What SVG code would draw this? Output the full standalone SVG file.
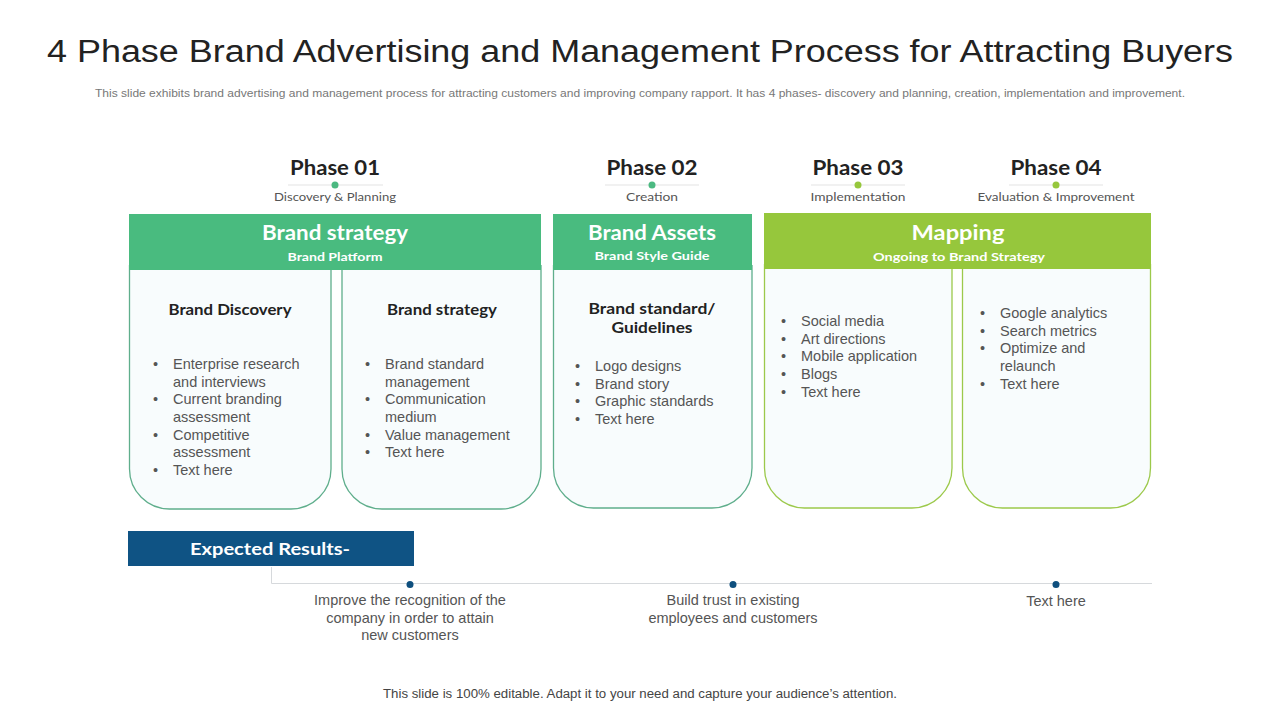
<svg xmlns="http://www.w3.org/2000/svg" width="1280" height="720" viewBox="0 0 1280 720">
<style>
.title{font-family:"Liberation Sans",Arial,sans-serif;font-size:31px;fill:#222;text-anchor:middle}
.sub{font-family:"Liberation Sans",Arial,sans-serif;font-size:10.5px;fill:#777;text-anchor:middle}
.ph{font-family:Lato,"Liberation Sans",sans-serif;font-weight:bold;font-size:20px;fill:#222;text-anchor:middle}
.phs{font-family:Lato,"Liberation Sans",sans-serif;font-size:11.5px;fill:#555;text-anchor:middle}
.hd{font-family:Lato,"Liberation Sans",sans-serif;font-weight:bold;font-size:20px;fill:#fff;text-anchor:middle}
.hds{font-family:Lato,"Liberation Sans",sans-serif;font-weight:bold;font-size:12px;fill:#fff;text-anchor:middle}
.ct{font-family:Lato,"Liberation Sans",sans-serif;font-weight:bold;font-size:15.5px;fill:#222;text-anchor:middle}
.bl{font-family:"Liberation Sans",Arial,sans-serif;font-size:14.5px;fill:#555}
.res{font-family:"Liberation Sans",Arial,sans-serif;font-size:14.5px;fill:#555;text-anchor:middle}
.ft{font-family:"Liberation Sans",Arial,sans-serif;font-size:12.5px;fill:#444;text-anchor:middle}
.cg{fill:#f8fcfd;stroke:#5fae8c;stroke-width:1.3}
.cy{fill:#f8fcfd;stroke:#9cc94b;stroke-width:1.3}
.pl{stroke:#e3e3e3;stroke-width:1}
</style>
<rect width="1280" height="720" fill="#fff"/>
<text class="title" x="640" y="62" textLength="1186" lengthAdjust="spacingAndGlyphs">4 Phase Brand Advertising and Management Process for Attracting Buyers</text>
<text class="sub" x="640" y="97" textLength="1090" lengthAdjust="spacingAndGlyphs">This slide exhibits brand advertising and management process for attracting customers and improving company rapport. It has 4 phases- discovery and planning, creation, implementation and improvement.</text>

<g id="phase1">
<text class="ph" x="335" y="175" textLength="90" lengthAdjust="spacingAndGlyphs">Phase 01</text>
<line class="pl" x1="288" y1="185" x2="383" y2="185"/>
<circle cx="335" cy="185" r="3.5" fill="#4bb981"/>
<text class="phs" x="335" y="201" textLength="122" lengthAdjust="spacingAndGlyphs">Discovery &amp; Planning</text>
</g>
<g id="phase2">
<text class="ph" x="652" y="175" textLength="91" lengthAdjust="spacingAndGlyphs">Phase 02</text>
<line class="pl" x1="605" y1="185" x2="699" y2="185"/>
<circle cx="652" cy="185" r="3.5" fill="#4bb981"/>
<text class="phs" x="652" y="201" textLength="52" lengthAdjust="spacingAndGlyphs">Creation</text>
</g>
<g id="phase3">
<text class="ph" x="858" y="175" textLength="91" lengthAdjust="spacingAndGlyphs">Phase 03</text>
<line class="pl" x1="811" y1="185" x2="905" y2="185"/>
<circle cx="858" cy="185" r="3.5" fill="#96c73c"/>
<text class="phs" x="858" y="201" textLength="95" lengthAdjust="spacingAndGlyphs">Implementation</text>
</g>
<g id="phase4">
<text class="ph" x="1056" y="175" textLength="91" lengthAdjust="spacingAndGlyphs">Phase 04</text>
<line class="pl" x1="1009" y1="185" x2="1103" y2="185"/>
<circle cx="1056" cy="185" r="3.5" fill="#96c73c"/>
<text class="phs" x="1056" y="201" textLength="157" lengthAdjust="spacingAndGlyphs">Evaluation &amp; Improvement</text>
</g>

<g id="card1">
<path class="cg" d="M129.5,265 V469 A40,40 0 0 0 169.5,509 H291 A40,40 0 0 0 331,469 V265"/>
<text class="ct" x="230" y="315" textLength="123" lengthAdjust="spacingAndGlyphs">Brand Discovery</text>
<g class="bl">
<text x="153" y="369">•</text><text x="173" y="369">Enterprise research</text>
<text x="173" y="387">and interviews</text>
<text x="153" y="404">•</text><text x="173" y="404">Current branding</text>
<text x="173" y="422">assessment</text>
<text x="153" y="440">•</text><text x="173" y="440">Competitive</text>
<text x="173" y="457">assessment</text>
<text x="153" y="475">•</text><text x="173" y="475">Text here</text>
</g>
</g>
<g id="card2">
<path class="cg" d="M342,265 V469 A40,40 0 0 0 382,509 H501 A40,40 0 0 0 541,469 V265"/>
<text class="ct" x="442" y="315" textLength="110" lengthAdjust="spacingAndGlyphs">Brand strategy</text>
<g class="bl">
<text x="365" y="369">•</text><text x="385" y="369">Brand standard</text>
<text x="385" y="387">management</text>
<text x="365" y="404">•</text><text x="385" y="404">Communication</text>
<text x="385" y="422">medium</text>
<text x="365" y="440">•</text><text x="385" y="440">Value management</text>
<text x="365" y="457">•</text><text x="385" y="457">Text here</text>
</g>
</g>
<g id="header1">
<rect x="129" y="214" width="412" height="56" fill="#49bb7f"/>
<text class="hd" x="335" y="240" textLength="146" lengthAdjust="spacingAndGlyphs">Brand strategy</text>
<text class="hds" x="335" y="261" textLength="95" lengthAdjust="spacingAndGlyphs">Brand Platform</text>
</g>

<g id="card3">
<path class="cg" d="M553.5,265 V468 A40,40 0 0 0 593.5,508 H712 A40,40 0 0 0 752,468 V265"/>
<text class="ct" x="652" y="314" textLength="127" lengthAdjust="spacingAndGlyphs">Brand standard/</text>
<text class="ct" x="652" y="333" textLength="81" lengthAdjust="spacingAndGlyphs">Guidelines</text>
<g class="bl">
<text x="575" y="371">•</text><text x="595" y="371">Logo designs</text>
<text x="575" y="389">•</text><text x="595" y="389">Brand story</text>
<text x="575" y="406">•</text><text x="595" y="406">Graphic standards</text>
<text x="575" y="424">•</text><text x="595" y="424">Text here</text>
</g>
</g>
<g id="header2">
<rect x="553" y="214" width="199" height="56" fill="#49bb7f"/>
<text class="hd" x="652" y="240" textLength="128" lengthAdjust="spacingAndGlyphs">Brand Assets</text>
<text class="hds" x="652" y="260" textLength="115" lengthAdjust="spacingAndGlyphs">Brand Style Guide</text>
</g>

<g id="card4">
<path class="cy" d="M764.5,264 V468 A40,40 0 0 0 804.5,508 H912 A40,40 0 0 0 952,468 V264"/>
<g class="bl">
<text x="781" y="326">•</text><text x="801" y="326">Social media</text>
<text x="781" y="344">•</text><text x="801" y="344">Art directions</text>
<text x="781" y="361">•</text><text x="801" y="361">Mobile application</text>
<text x="781" y="379">•</text><text x="801" y="379">Blogs</text>
<text x="781" y="397">•</text><text x="801" y="397">Text here</text>
</g>
</g>
<g id="card5">
<path class="cy" d="M962.5,264 V468 A40,40 0 0 0 1002.5,508 H1110.5 A40,40 0 0 0 1150.5,468 V264"/>
<g class="bl">
<text x="980" y="318">•</text><text x="1000" y="318">Google analytics</text>
<text x="980" y="336">•</text><text x="1000" y="336">Search metrics</text>
<text x="980" y="353">•</text><text x="1000" y="353">Optimize and</text>
<text x="1000" y="371">relaunch</text>
<text x="980" y="389">•</text><text x="1000" y="389">Text here</text>
</g>
</g>
<g id="header3">
<rect x="764" y="213" width="387" height="56" fill="#96c73c"/>
<text class="hd" x="958" y="240" textLength="93" lengthAdjust="spacingAndGlyphs">Mapping</text>
<text class="hds" x="959" y="261" textLength="172" lengthAdjust="spacingAndGlyphs">Ongoing to Brand Strategy</text>
</g>

<g id="connectors">
<polyline points="271.5,567 271.5,583.5 1152,583.5" fill="none" stroke="#d6d9dc" stroke-width="1"/>
</g>

<g id="expected">
<rect x="128" y="531" width="286" height="35" fill="#0f5384"/>
<text class="hd" x="270" y="555" style="font-size:17px" textLength="160" lengthAdjust="spacingAndGlyphs">Expected Results-</text>
</g>

<g id="result1">
<circle cx="410" cy="584.5" r="3.5" fill="#0e4f7e"/>
<text class="res" x="410" y="605">Improve the recognition of the</text>
<text class="res" x="410" y="623">company in order to attain</text>
<text class="res" x="410" y="640">new customers</text>
</g>
<g id="result2">
<circle cx="733" cy="584.5" r="3.5" fill="#0e4f7e"/>
<text class="res" x="733" y="605">Build trust in existing</text>
<text class="res" x="733" y="623">employees and customers</text>
</g>
<g id="result3">
<circle cx="1056" cy="584.5" r="3.5" fill="#0e4f7e"/>
<text class="res" x="1056" y="606">Text here</text>
</g>

<text class="ft" x="640" y="698" textLength="514" lengthAdjust="spacingAndGlyphs">This slide is 100% editable. Adapt it to your need and capture your audience’s attention.</text>
</svg>
